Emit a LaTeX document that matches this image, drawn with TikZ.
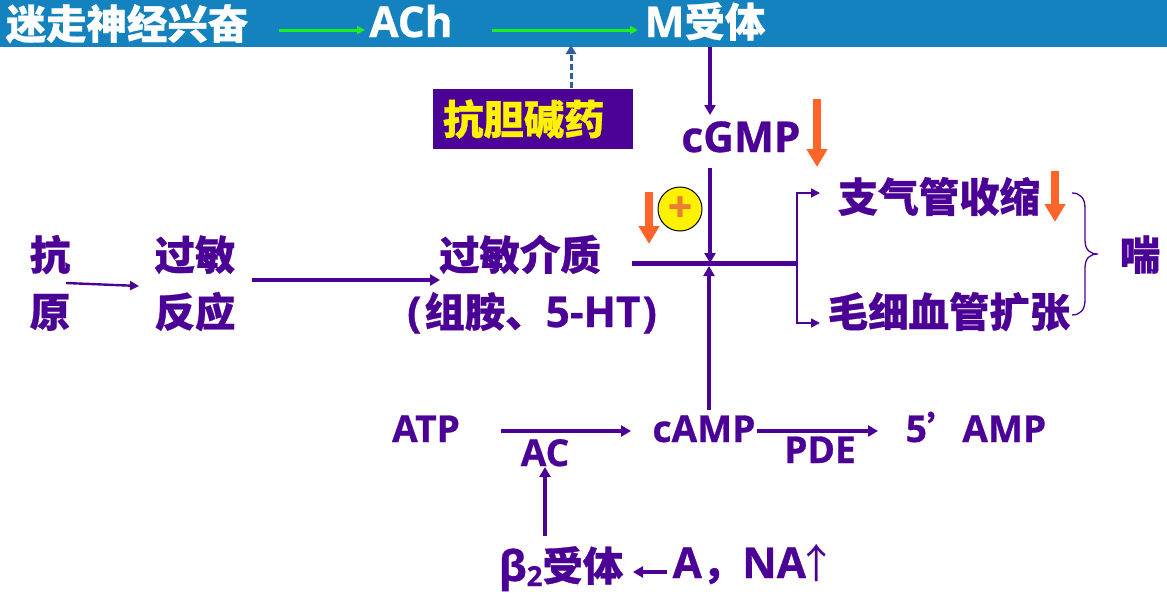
\documentclass[tikz,border=0pt]{standalone}
\usepackage{fontspec}
\setmainfont{Open Sans}[Scale=1.06,BoldFeatures={FakeBold=0.7}]
\newfontfamily\cjk{Noto Sans CJK SC}[Scale=1.01,BoldFeatures={FakeBold=0.7}]
\usetikzlibrary{arrows.meta}
\definecolor{ink}{HTML}{4B0096}
\definecolor{banner}{HTML}{1482BE}
\definecolor{hot}{HTML}{FF6528}
\definecolor{plusc}{HTML}{ED7D31}
\definecolor{dashc}{HTML}{2E5E9E}
\definecolor{glow}{HTML}{1EF01E}
\tikzset{
  x=1pt,y=-1pt,
  lbl/.style={anchor=base,inner sep=0pt,outer sep=0pt,text=ink,font=\fontsize{40}{48}\selectfont\bfseries},
  lblw/.style={lbl,text=white},
  lblm/.style={lbl,font=\fontsize{35}{42}\selectfont\bfseries},
  arr/.style={draw=ink,line width=3.2pt,-{Triangle[width=11pt,length=10pt]}},
  arrthin/.style={draw=ink,line width=1.6pt,-{Triangle[width=9pt,length=9pt]}},
  grn/.style={draw=glow,line width=3pt,-{Triangle[width=8pt,length=8pt]}},
  down/.style={draw=hot,line width=7.5pt,-{Triangle[width=20pt,length=18pt]}},
}
\begin{document}
\begin{tikzpicture}
\useasboundingbox (0,0) rectangle (1167,597);
\fill[banner] (0,0) rectangle (1167,47);
% labels
\node[lblw] (vagus) at (127,39) {\cjk 迷走神经兴奋};
\node[lblw] (ach) at (411,37) {ACh};
\node[lblw] (mr) at (705,37) {M{\cjk 受体}};
\node[anchor=center,inner sep=0pt,outer sep=0pt,fill=ink,minimum width=200pt,minimum height=60pt,text width=200pt,align=left,text=yellow,font=\fontsize{40}{48}\selectfont\bfseries] (drug) at (533,119) {\hspace*{10pt}\cjk 抗胆碱药};
\node[lbl] (cgmp) at (741,152) {cGMP};
\node[lbl] (constrict) at (939,212) {\cjk 支气管收缩};
\node[lbl] (dilate) at (949,327) {\cjk 毛细血管扩张};
\node[lbl] (asthma) at (1140,270) {\cjk 喘};
\node[lbl] (ag1) at (50,270) {\cjk 抗};
\node[lbl] (ag2) at (50,327) {\cjk 原};
\node[lbl] (al1) at (195,270) {\cjk 过敏};
\node[lbl] (al2) at (195,327) {\cjk 反应};
\node[lbl] (med) at (520,270) {\cjk 过敏介质};
\node[lbl] (med2) at (532,327) {(\kern3pt{\cjk 组胺、}5-HT\kern2pt)};
\node[lblm] (atp) at (426,442) {ATP};
\node[lblm] (camp) at (704,442) {cAMP};
\node[lblm] (amp) at (976,442) {5{\cjk ’}AMP};
\node[lblm] (ac) at (545,466) {AC};
\node[lblm] (pde) at (820,463) {PDE};
\node[lbl] (beta) at (561,581) {β\raisebox{-5pt}{\fontsize{26}{30}\selectfont 2}{\cjk 受体}};
\node[lbl] (na) at (755,578) {A{\cjk ，}NA{\cjk\mdseries\kern-9pt↑}};
\node[circle,draw=black,line width=1pt,fill=yellow,minimum size=44pt,inner sep=0pt,text=plusc,font=\fontsize{40}{48}\selectfont\bfseries] (plus) at (680,209) {+};
% junctions
\coordinate (dashend) at (571,45);
\coordinate (bus) at (797,263);
\coordinate (jn) at (710,263);
% connectors
\draw[grn] ([shift={(152,-9)}]vagus.base) -- ([shift={(-46,-7)}]ach.base);
\draw[grn] ([shift={(81,-7)}]ach.base) -- ([shift={(-67,-7)}]mr.base);
\draw[dashc,line width=3pt,dash pattern=on 6pt off 3pt,-{Triangle[width=10pt,length=9pt]}] ([shift={(38,-1)}]drug.north) -- (dashend);
\draw[arr] ([shift={(5,10)}]mr.base) -- ([shift={(-31,-37)}]cgmp.base);
\draw[arr] ([shift={(-31,16)}]cgmp.base) -- (jn);
\draw[arr] ([shift={(5,-32)}]camp.base) -- ([shift={(-1,3)}]jn);
\draw[draw=ink,line width=5pt] ([shift={(112,-7)}]med.base) -- (bus);
\draw[arrthin] (bus) |- ([shift={(-119,-19)}]constrict.base);
\draw[arrthin] (bus) |- ([shift={(-129,-4)}]dilate.base);
\draw[draw=ink,line width=2.4pt,-{Triangle[width=9pt,length=9pt]}] ([shift={(16,13)}]ag1.base) -- ([shift={(-56,16)}]al1.base);
\draw[arr] ([shift={(57,10)}]al1.base) -- ([shift={(-80,10)}]med.base);
\draw[arr] ([shift={(75,-11)}]atp.base) -- ([shift={(-73,-11)}]camp.base);
\draw[arr] ([shift={(53,-11)}]camp.base) -- ([shift={(-98,-11)}]amp.base);
\draw[arr] ([shift={(-16,-45)}]beta.base) -- ([shift={(0,1)}]ac.base);
\draw[arr] ([shift={(-88,-6)}]na.base) -- ([shift={(72,-9)}]beta.base);
% orange arrows
\draw[down] (817,99) -- (817,167);
\draw[down] (649,192) -- (649,244);
\draw[down] (1055,171) -- (1055,222);
% brace
\draw[ink,line width=1.3pt] (1072,193) .. controls (1080,193) and (1085,198) .. (1085,208) -- (1085,240) .. controls (1085,250) and (1090,254) .. (1098,254) .. controls (1090,254) and (1085,258) .. (1085,268) -- (1085,300) .. controls (1085,310) and (1080,315) .. (1072,315);
\end{tikzpicture}
\end{document}
